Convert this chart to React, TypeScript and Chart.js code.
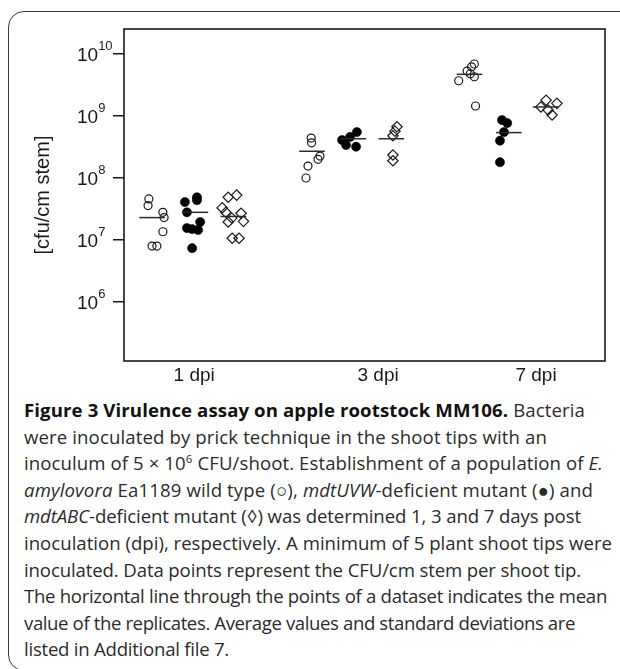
import React, { useEffect, useLayoutEffect, useRef } from 'react';
import { Chart, registerables } from 'chart.js';

Chart.register(...registerables);

// ---- data ----
const dayLabels = ['1 dpi', '3 dpi', '7 dpi'];
const dayLabelPos = [1.75, 6.34, 10.28];
const yTickValues = [1e6, 1e7, 1e8, 1e9, 1e10];
const yTitle = '[cfu/cm stem]';

// wild type (open circles)
const wildTypeX = [
  [0.62, 0.6, 0.97, 1.0, 0.97, 0.7, 0.82],
  [4.67, 4.68, 4.89, 4.84, 4.59, 4.54],
  [8.74, 8.67, 8.56, 8.64, 8.74, 8.35, 8.77],
];
const wildTypeY = [
  [4.6e7, 3.6e7, 2.8e7, 2.3e7, 1.36e7, 8.0e6, 8.0e6],
  [4.4e8, 3.7e8, 2.26e8, 2.0e8, 1.56e8, 1.0e8],
  [6.9e9, 6.2e9, 5.3e9, 4.8e9, 4.3e9, 3.7e9, 1.45e9],
];
const wildTypeMean = [2.3e7, 2.7e8, 4.7e9];
const wildTypeMeanX = [0.7, 4.69, 8.62];

// mdtUVW-deficient mutant (filled circles)
const uvwX = [
  [1.82, 1.82, 1.52, 1.57, 1.9, 1.57, 1.7, 1.85, 1.7],
  [5.81, 5.64, 5.44, 5.54, 5.79],
  [9.43, 9.56, 9.48, 9.38, 9.38],
];
const uvwY = [
  [4.9e7, 4.4e7, 4.1e7, 2.8e7, 1.95e7, 1.56e7, 1.5e7, 1.45e7, 7.4e6],
  [5.5e8, 4.6e8, 4.1e8, 3.4e8, 3.2e8],
  [8.6e8, 7.7e8, 5.5e8, 4.0e8, 1.8e8],
];
const uvwMean = [2.8e7, 4.3e8, 5.4e8];
const uvwMeanX = [1.78, 5.72, 9.6];

// mdtABC-deficient mutant (diamonds)
const abcX = [
  [2.6, 2.81, 2.45, 2.54, 2.69, 2.6, 2.92, 2.98, 2.7, 2.87],
  [6.81, 6.76, 6.71, 6.71, 6.71],
  [10.53, 10.8, 10.4, 10.58, 10.68],
];
const abcY = [
  [4.9e7, 5.3e7, 3.3e7, 2.8e7, 2.26e7, 1.95e7, 2.7e7, 2.0e7, 1.07e7, 1.07e7],
  [6.7e8, 5.7e8, 4.8e8, 2.35e8, 1.9e8],
  [1.8e9, 1.6e9, 1.4e9, 1.25e9, 1.04e9],
];
const abcMean = [2.4e7, 4.3e8, 1.4e9];
const abcMeanX = [2.73, 6.67, 10.52];

// ---- styling constants ----
const INK = '#1a1a1a';
const AXIS_FONT = '"Liberation Sans", Arial, Helvetica, sans-serif';
const MEAN_HALF = 0.32;
const CAPTION_LEFT = 24;
// right edge (page x) each caption line reaches in the reference
const CAPTION_RIGHT = [585, 547, 603, 593, 581, 612, 581, 607, 575, 229];

function toPoints(xs: number[][], ys: number[][]) {
  return xs.flatMap((row, d) => row.map((x, i) => ({ x, y: ys[d][i] })));
}

function meanLines(centers: number[], means: number[]) {
  return centers.map((c, d) => ({
    type: 'line' as const,
    data: [
      { x: c - MEAN_HALF, y: means[d] },
      { x: c + MEAN_HALF, y: means[d] },
    ],
    showLine: true,
    borderColor: '#2a2a2a',
    borderWidth: 1.5,
    pointRadius: 0,
    fill: false,
  }));
}

const decorPlugin = {
  id: 'decor',
  afterDraw(chart: any) {
    const { ctx, chartArea: ca, scales } = chart;
    ctx.save();
    ctx.strokeStyle = INK;
    ctx.lineWidth = 1.6;
    ctx.strokeRect(ca.left, ca.top, ca.right - ca.left, ca.bottom - ca.top);

    ctx.fillStyle = INK;
    ctx.textAlign = 'left';
    ctx.textBaseline = 'alphabetic';
    yTickValues.forEach((v) => {
      const y = scales.y.getPixelForValue(v);
      const exp = String(Math.round(Math.log10(v)));
      ctx.font = `19px ${AXIS_FONT}`;
      ctx.fillText('10', 77, y + 7);
      const w = ctx.measureText('10').width;
      ctx.font = `13px ${AXIS_FONT}`;
      ctx.fillText(exp, 77 + w, y - 4);
    });

    ctx.translate(43, (ca.top + ca.bottom) / 2);
    ctx.rotate(-Math.PI / 2);
    ctx.textAlign = 'center';
    ctx.textBaseline = 'middle';
    ctx.font = `20px ${AXIS_FONT}`;
    ctx.fillText(yTitle, 0, 0);
    ctx.restore();
  },
};

function FigureChart() {
  const ref = useRef<HTMLCanvasElement | null>(null);
  useEffect(() => {
    if (!ref.current) return;
    const chart = new Chart(ref.current, {
      type: 'scatter',
      data: {
        datasets: [
          ...meanLines(wildTypeMeanX, wildTypeMean),
          ...meanLines(uvwMeanX, uvwMean),
          ...meanLines(abcMeanX, abcMean),
          {
            label: 'wild type',
            data: toPoints(wildTypeX, wildTypeY),
            pointStyle: 'circle',
            pointRadius: 4,
            borderColor: INK,
            backgroundColor: 'rgba(0,0,0,0)',
            borderWidth: 1.2,
          },
          {
            label: 'mdtUVW',
            data: toPoints(uvwX, uvwY),
            pointStyle: 'circle',
            pointRadius: 4.6,
            borderColor: '#000',
            backgroundColor: '#000',
            borderWidth: 0.5,
          },
          {
            label: 'mdtABC',
            data: toPoints(abcX, abcY),
            pointStyle: 'rectRot',
            pointRadius: 5.2,
            borderColor: INK,
            backgroundColor: 'rgba(0,0,0,0)',
            borderWidth: 1.2,
          },
        ] as any,
      },
      options: {
        animation: false,
        responsive: false,
        maintainAspectRatio: false,
        devicePixelRatio: 1,
        layout: { padding: { left: 0, top: 29, right: 15, bottom: 0 } },
        plugins: { legend: { display: false }, tooltip: { enabled: false } },
        scales: {
          x: {
            type: 'linear',
            min: 0,
            max: 12,
            grid: { display: false, drawTicks: false },
            border: { display: false },
            afterBuildTicks: (s: any) => {
              s.ticks = dayLabelPos.map((v) => ({ value: v }));
            },
            afterFit: (s: any) => {
              s.height = 34;
            },
            ticks: {
              autoSkip: false,
              maxRotation: 0,
              padding: 3,
              color: INK,
              font: { family: AXIS_FONT, size: 19 },
              callback: (_v: any, i: number) => dayLabels[i],
            },
          },
          y: {
            type: 'logarithmic',
            min: 1.12e5,
            max: 2.53e10,
            border: { display: false },
            grid: {
              drawOnChartArea: false,
              drawTicks: true,
              tickLength: 11,
              color: INK,
              lineWidth: 1.5,
            },
            afterBuildTicks: (s: any) => {
              s.ticks = yTickValues.map((v) => ({ value: v }));
            },
            afterFit: (s: any) => {
              s.width = 124;
            },
            ticks: { autoSkip: false, callback: () => '' },
          },
        },
      } as any,
      plugins: [decorPlugin],
    });
    return () => chart.destroy();
  }, []);
  return (
    <canvas
      ref={ref}
      width={620}
      height={395}
      style={{ position: 'absolute', left: 0, top: 0, width: 620, height: 395 }}
    />
  );
}

const supStyle: React.CSSProperties = { fontSize: '0.62em', verticalAlign: '0.6em', lineHeight: 0 };

const captionLines: React.ReactNode[] = [
  <>
    <b style={{ color: '#111' }}>Figure 3 Virulence assay on apple rootstock MM106.</b> Bacteria
  </>,
  <>were inoculated by prick technique in the shoot tips with an</>,
  <>
    inoculum of 5 × 10<sup style={supStyle}>6</sup> CFU/shoot. Establishment of a population of <i>E.</i>
  </>,
  <>
    <i>amylovora</i> Ea1189 wild type (○), <i>mdtUVW</i>-deficient mutant (●) and
  </>,
  <>
    <i>mdtABC</i>-deficient mutant (◊) was determined 1, 3 and 7 days post
  </>,
  <>inoculation (dpi), respectively. A minimum of 5 plant shoot tips were</>,
  <>inoculated. Data points represent the CFU/cm stem per shoot tip.</>,
  <>The horizontal line through the points of a dataset indicates the mean</>,
  <>value of the replicates. Average values and standard deviations are</>,
  <>listed in Additional file 7.</>,
];

function Caption() {
  const refs = useRef<(HTMLSpanElement | null)[]>([]);
  useLayoutEffect(() => {
    const fit = () => {
      refs.current.forEach((el, i) => {
        if (!el) return;
        el.style.letterSpacing = '0px';
        const r = el.getBoundingClientRect();
        const n = (el.textContent || '').length;
        const target = CAPTION_RIGHT[i] - r.left;
        const ls = (target - r.width) / Math.max(1, n);
        el.style.letterSpacing = `${ls.toFixed(3)}px`;
      });
    };
    fit();
    if ((document as any).fonts && (document as any).fonts.ready) {
      (document as any).fonts.ready.then(fit);
    }
  }, []);
  return (
    <div
      style={{
        position: 'absolute',
        left: CAPTION_LEFT,
        top: 397,
        fontFamily: '"Open Sans", sans-serif',
        fontSize: 18.6,
        lineHeight: '26.6px',
        color: '#2b2b2b',
        whiteSpace: 'nowrap',
      }}
    >
      {captionLines.map((l, i) => (
        <div key={i}>
          <span
            ref={(el) => {
              refs.current[i] = el;
            }}
            style={{ display: 'inline-block' }}
          >
            {l}
          </span>
        </div>
      ))}
    </div>
  );
}

export default function App() {
  return (
    <div
      style={{
        position: 'absolute',
        left: 0,
        top: 0,
        width: 620,
        height: 669,
        overflow: 'hidden',
        background: '#fff',
      }}
    >
      <div
        style={{
          position: 'absolute',
          left: 8,
          top: 11,
          width: 640,
          height: 660,
          border: '1.5px solid #3a3a3a',
          borderRadius: 16,
          boxSizing: 'border-box',
        }}
      />
      <FigureChart />
      <Caption />
    </div>
  );
}
